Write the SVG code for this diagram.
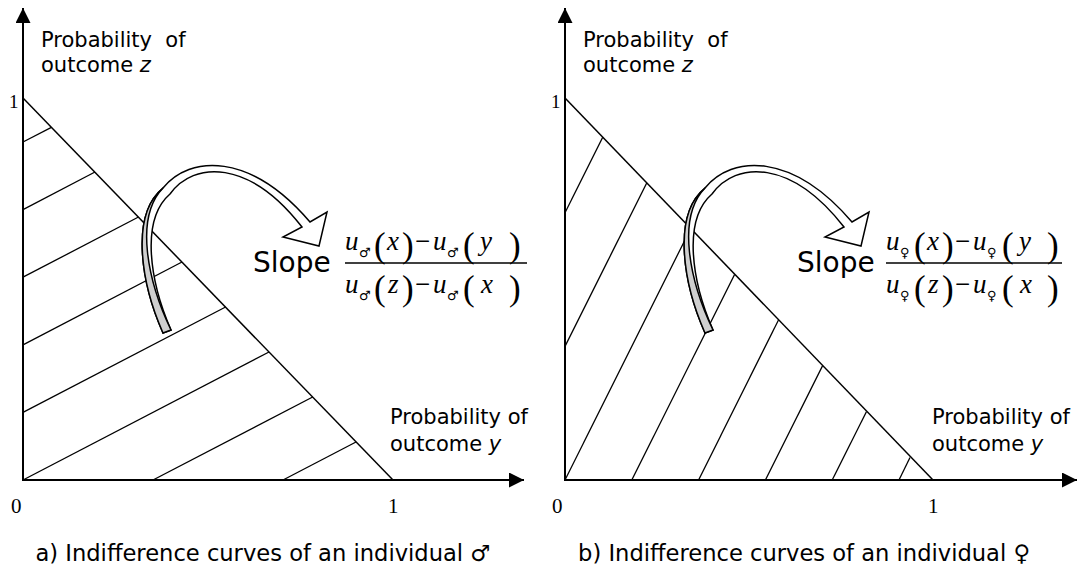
<svg xmlns="http://www.w3.org/2000/svg" width="1084" height="572" viewBox="0 0 1084 572">
<style>
.axis{stroke:#000;stroke-width:2;fill:none}
.diag{stroke:#000;stroke-width:1.5;fill:none}
.hatch{stroke:#000;stroke-width:1.3;fill:none}
.lbl{font-family:"DejaVu Sans",Verdana,sans-serif;font-size:21px;fill:#000;white-space:pre}
.cap{font-family:"DejaVu Sans",Verdana,sans-serif;font-size:22.6px;fill:#000}
.slope{font-family:"DejaVu Sans",Verdana,sans-serif;font-size:28px;fill:#000}
.num{font-family:"Liberation Serif","Times New Roman",serif;font-size:21px;fill:#000}
.mi{font-family:"Liberation Serif","Times New Roman",serif;font-style:italic;font-size:27px;fill:#000}
.par{font-family:"Liberation Serif","Times New Roman",serif;font-size:35px;fill:#000}
.mo{font-family:"Liberation Serif","Times New Roman",serif;font-size:27px;fill:#000}
.sub{font-family:"DejaVu Sans",sans-serif;font-size:13px;fill:#000}
.band{fill:#fff;stroke:#000;stroke-width:1.5;stroke-linejoin:miter}
.gray{fill:#cfcfcf;stroke:#000;stroke-width:1.5}
.bar{stroke:#000;stroke-width:1.3}
</style>
<defs>
<marker id="ah" markerUnits="userSpaceOnUse" markerWidth="16" markerHeight="16" refX="15" refY="7.5" orient="auto">
<path d="M0,0 L15,7.5 L0,15 Z" fill="#000"/>
</marker>
<g id="curl">
<path class="band" d="M163,333 C141,283 130,215 163,188 C190,155 250,152 310,222 L327,212 L319,246 L283,237 L302,227 C249,159 194,161 170,194 C140,220 150,282 171,330 Z"/>
<path class="gray" d="M163,333 C141,283 130,215 163,188 C134,218 148,282 171,330 Z"/>
</g>
</defs>

<g id="panel-a">
<g id="axes-a">
<line class="axis" x1="23" y1="481" x2="23" y2="8" marker-end="url(#ah)"/>
<line class="axis" x1="22" y1="480" x2="524" y2="480" marker-end="url(#ah)"/>
<line class="diag" x1="23" y1="98" x2="393" y2="480"/>
</g>
<g id="curves-a">
<line class="hatch" x1="23" y1="142" x2="51.4" y2="127.3"/>
<line class="hatch" x1="23" y1="209.6" x2="95" y2="172"/>
<line class="hatch" x1="23" y1="277.2" x2="138.5" y2="217"/>
<line class="hatch" x1="23" y1="344.8" x2="182" y2="262"/>
<line class="hatch" x1="23" y1="412.4" x2="225.6" y2="307"/>
<line class="hatch" x1="23" y1="480" x2="269" y2="352"/>
<line class="hatch" x1="153" y1="480" x2="312.7" y2="397"/>
<line class="hatch" x1="283" y1="480" x2="356" y2="442"/>
</g>
<g id="labels-a">
<text class="lbl" x="41" y="47" xml:space="preserve">Probability  of</text>
<text class="lbl" x="41" y="72">outcome <tspan font-style="italic">z</tspan></text>
<text class="lbl" x="390" y="424">Probability of</text>
<text class="lbl" x="390" y="451">outcome <tspan font-style="italic">y</tspan></text>
<text class="num" x="9" y="108" style="font-size:19px">1</text>
<text class="num" x="11" y="513">0</text>
<text class="num" x="388" y="513">1</text>
<text class="cap" x="263" y="561" text-anchor="middle">a) Indifference curves of an individual ♂</text>
</g>
<g id="arrow-a"><use href="#curl"/></g>
<g id="slope-a">
<text class="slope" x="253" y="272">Slope</text>
<text class="mi" x="345" y="250">u</text>
<text class="sub" x="359" y="257">♂</text>
<text class="par" x="374" y="257">(</text>
<text class="mi" x="387" y="250">x</text>
<text class="par" x="402" y="257">)</text>
<text class="mo" x="415" y="250">−</text>
<text class="mi" x="433" y="250">u</text>
<text class="sub" x="447" y="257">♂</text>
<text class="par" x="463" y="257">(</text>
<text class="mi" x="480" y="250">y</text>
<text class="par" x="509" y="257">)</text>
<line class="bar" x1="345" y1="263" x2="527" y2="263"/>
<text class="mi" x="345" y="293">u</text>
<text class="sub" x="359" y="300">♂</text>
<text class="par" x="374" y="300">(</text>
<text class="mi" x="388" y="293">z</text>
<text class="par" x="402" y="300">)</text>
<text class="mo" x="415" y="293">−</text>
<text class="mi" x="433" y="293">u</text>
<text class="sub" x="447" y="300">♂</text>
<text class="par" x="463" y="300">(</text>
<text class="mi" x="481" y="293">x</text>
<text class="par" x="509" y="300">)</text>
</g>
</g>

<g id="panel-b">
<g id="axes-b">
<line class="axis" x1="565" y1="481" x2="565" y2="8" marker-end="url(#ah)"/>
<line class="axis" x1="564" y1="480" x2="1077" y2="480" marker-end="url(#ah)"/>
<line class="diag" x1="565" y1="98" x2="933" y2="480"/>
</g>
<g id="curves-b">
<line class="hatch" x1="565" y1="212.8" x2="602.7" y2="137.3"/>
<line class="hatch" x1="565" y1="346.4" x2="646.7" y2="183"/>
<line class="hatch" x1="565" y1="480" x2="690.6" y2="228.7"/>
<line class="hatch" x1="631.8" y1="480" x2="734.6" y2="274.5"/>
<line class="hatch" x1="698.6" y1="480" x2="778.5" y2="320"/>
<line class="hatch" x1="765.4" y1="480" x2="822.5" y2="365.9"/>
<line class="hatch" x1="832.2" y1="480" x2="866.4" y2="411.7"/>
<line class="hatch" x1="899" y1="480" x2="910" y2="457.5"/>
</g>
<g id="labels-b">
<text class="lbl" x="583" y="47" xml:space="preserve">Probability  of</text>
<text class="lbl" x="583" y="72">outcome <tspan font-style="italic">z</tspan></text>
<text class="lbl" x="932" y="424">Probability of</text>
<text class="lbl" x="932" y="451">outcome <tspan font-style="italic">y</tspan></text>
<text class="num" x="551" y="108" style="font-size:19px">1</text>
<text class="num" x="552" y="513">0</text>
<text class="num" x="928" y="513">1</text>
<text class="cap" x="804" y="561" text-anchor="middle">b) Indifference curves of an individual ♀</text>
</g>
<g id="arrow-b"><use href="#curl" transform="translate(542,0)"/></g>
<g id="slope-b">
<text class="slope" x="797" y="272">Slope</text>
<text class="mi" x="886" y="250">u</text>
<text class="sub" x="900" y="257">♀</text>
<text class="par" x="914" y="257">(</text>
<text class="mi" x="927" y="250">x</text>
<text class="par" x="942" y="257">)</text>
<text class="mo" x="955" y="250">−</text>
<text class="mi" x="973" y="250">u</text>
<text class="sub" x="987" y="257">♀</text>
<text class="par" x="1002" y="257">(</text>
<text class="mi" x="1019" y="250">y</text>
<text class="par" x="1047" y="257">)</text>
<line class="bar" x1="886" y1="263" x2="1062" y2="263"/>
<text class="mi" x="886" y="293">u</text>
<text class="sub" x="900" y="300">♀</text>
<text class="par" x="914" y="300">(</text>
<text class="mi" x="928" y="293">z</text>
<text class="par" x="942" y="300">)</text>
<text class="mo" x="955" y="293">−</text>
<text class="mi" x="973" y="293">u</text>
<text class="sub" x="987" y="300">♀</text>
<text class="par" x="1002" y="300">(</text>
<text class="mi" x="1020" y="293">x</text>
<text class="par" x="1047" y="300">)</text>
</g>
</g>
</svg>
